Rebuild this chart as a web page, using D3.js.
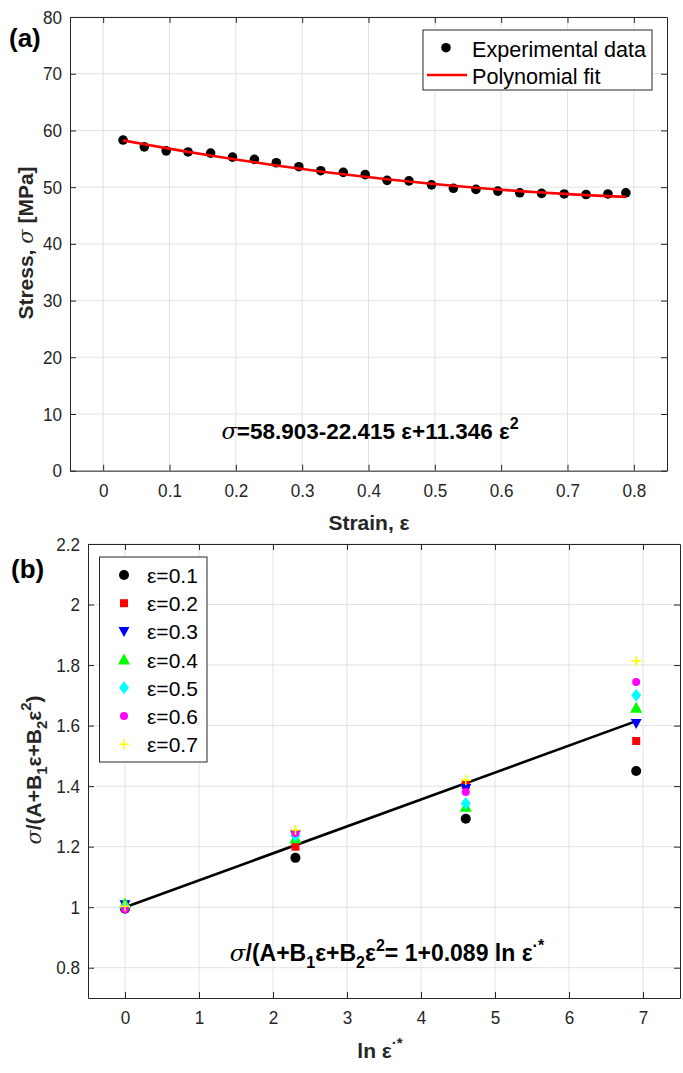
<!DOCTYPE html>
<html><head><meta charset="utf-8">
<script src="https://cdn.jsdelivr.net/npm/d3@7"></script>
<style>
html,body{margin:0;padding:0;background:#fff;}
svg text{font-family:"Liberation Sans",Arial,Helvetica,sans-serif;}
</style></head>
<body>
<svg id="c" width="683" height="1073"></svg>
<script>
// ---------- Panel (a) data ----------
const strain = [0.030,0.062,0.095,0.128,0.162,0.195,0.228,0.261,0.295,0.328,0.362,0.395,0.428,0.461,0.495,0.528,0.562,0.595,0.628,0.661,0.695,0.728,0.761,0.788];
const stress = [58.3,57.1,56.4,56.2,56.0,55.3,54.9,54.3,53.6,52.9,52.6,52.2,51.2,51.1,50.4,49.8,49.6,49.3,49.0,48.9,48.8,48.7,48.8,49.0];
const fitCoefA = [58.903, -22.415, 11.346];
const ticksAX = [0,0.1,0.2,0.3,0.4,0.5,0.6,0.7,0.8];
const ticksAY = [0,10,20,30,40,50,60,70,80];

// ---------- Panel (b) data ----------
const lnRate = [0, 2.303, 4.605, 6.908];
const seriesNames = ["ε=0.1","ε=0.2","ε=0.3","ε=0.4","ε=0.5","ε=0.6","ε=0.7"];
const e01 = [0.995, 1.163, 1.292, 1.450];
const e02 = [1.000, 1.200, 1.404, 1.549];
const e03 = [1.008, 1.240, 1.392, 1.607];
const e04 = [1.012, 1.228, 1.332, 1.659];
const e05 = [1.000, 1.236, 1.343, 1.700];
const e06 = [0.993, 1.245, 1.381, 1.744];
const e07 = [1.003, 1.255, 1.420, 1.813];
const seriesColors = ["#000000","#ff0000","#0000ff","#00ff00","#00ffff","#ff00ff","#ffff00"];
const seriesMarkers = ["circle","square","tdown","tup","diamond","smallcircle","plus"];
const fitCoefB = [1, 0.089];
const fitRangeB = [0, 6.908];
const ticksBX = [0,1,2,3,4,5,6,7];
const ticksBY = [0.8,1,1.2,1.4,1.6,1.8,2,2.2];

const svg = d3.select("#c");
svg.append("rect").attr("width",683).attr("height",1073).attr("fill","#fff");
const AX = "#262626", GRID = "#e2e2e2";
const TICKFS = 19, SQUEEZE = 0.9;

function squeeze(sel) {
  sel.each(function(){
    const L = this.getComputedTextLength();
    if (L > 0) d3.select(this).attr("textLength", L*SQUEEZE).attr("lengthAdjust","spacingAndGlyphs");
  });
}

function frame(x, y, xt, yt) {
  const [x0,x1] = x.range(), [y0,y1] = y.range();
  const g = svg.append("g");
  g.selectAll(".gx").data(xt).join("line").attr("x1",d=>x(d)).attr("x2",d=>x(d)).attr("y1",y0).attr("y2",y1).attr("stroke",GRID).attr("stroke-width",1);
  g.selectAll(".gy").data(yt).join("line").attr("y1",d=>y(d)).attr("y2",d=>y(d)).attr("x1",x0).attr("x2",x1).attr("stroke",GRID).attr("stroke-width",1);
  const tl = 6;
  const style = s=>{s.select(".domain").attr("stroke",AX);s.selectAll("line").attr("stroke",AX);
    s.selectAll("text").attr("fill",AX).attr("font-size",TICKFS).attr("font-family","Liberation Sans, Arial, sans-serif").call(squeeze);};
  svg.append("g").attr("transform",`translate(0,${y0})`)
    .call(d3.axisBottom(x).tickValues(xt).tickFormat(d3.format("")).tickSizeInner(-tl).tickSizeOuter(0).tickPadding(13))
    .call(style);
  svg.append("g").attr("transform",`translate(0,${y1})`)
    .call(d3.axisTop(x).tickValues(xt).tickFormat("").tickSizeInner(-tl).tickSizeOuter(0))
    .call(style);
  svg.append("g").attr("transform",`translate(${x0},0)`)
    .call(d3.axisLeft(y).tickValues(yt).tickFormat(d3.format("")).tickSizeInner(-tl).tickSizeOuter(0).tickPadding(8))
    .call(style);
  svg.append("g").attr("transform",`translate(${x1},0)`)
    .call(d3.axisRight(y).tickValues(yt).tickFormat("").tickSizeInner(-tl).tickSizeOuter(0))
    .call(style);
}

const sigma = t => t.append("tspan").attr("font-style","italic").attr("font-weight","normal").attr("font-family","DejaVu Serif, serif").text("σ");

// ================= Panel (a) =================
const xa = d3.scaleLinear().domain([-0.05,0.85]).range([70,667]);
const ya = d3.scaleLinear().domain([0,80]).range([470.7,17]);
frame(xa, ya, ticksAX, ticksAY);

const fitA = strain.map(s => [s, fitCoefA[0] + fitCoefA[1]*s + fitCoefA[2]*s*s]);
svg.append("g").selectAll("circle").data(strain).join("circle")
  .attr("cx",d=>xa(d)).attr("cy",(d,i)=>ya(stress[i])).attr("r",4.8).attr("fill","#000");
svg.append("path").datum(fitA)
  .attr("d", d3.line().x(d=>xa(d[0])).y(d=>ya(d[1])).curve(d3.curveMonotoneX))
  .attr("fill","none").attr("stroke","#ff0000").attr("stroke-width",2.6);

// legend (a)
svg.append("rect").attr("x",423).attr("y",30).attr("width",229).attr("height",60).attr("fill","#fff").attr("stroke",AX).attr("stroke-width",1);
svg.append("circle").attr("cx",446).attr("cy",47.7).attr("r",4.8).attr("fill","#000");
svg.append("line").attr("x1",427).attr("x2",467).attr("y1",75).attr("y2",75).attr("stroke","#ff0000").attr("stroke-width",2.6);
svg.append("text").attr("x",472).attr("y",56.5).attr("font-size",21.6).attr("fill","#000").text("Experimental data");
svg.append("text").attr("x",472).attr("y",83.5).attr("font-size",21.6).attr("fill","#000").text("Polynomial fit");

// labels (a)
svg.append("text").attr("x",9).attr("y",47).attr("font-size",26).attr("font-weight","bold").text("(a)");
svg.append("text").attr("x",369).attr("y",530).attr("text-anchor","middle").attr("font-size",21).attr("font-weight","bold").attr("fill",AX).text("Strain, ε");
{
  const t = svg.append("text").attr("transform","translate(33,243) rotate(-90)").attr("text-anchor","middle")
    .attr("font-size",21).attr("font-weight","bold").attr("fill",AX);
  t.append("tspan").text("Stress, ");
  sigma(t);
  t.append("tspan").text(" [MPa]");
}
{
  const t = svg.append("text").attr("x",370).attr("y",439).attr("text-anchor","middle").attr("font-size",22.5).attr("font-weight","bold").attr("fill","#000");
  sigma(t);
  t.append("tspan").text("=58.903-22.415 ε+11.346 ε");
  t.append("tspan").attr("dy",-10).attr("font-size",16).text("2");
}

// ================= Panel (b) =================
const xb = d3.scaleLinear().domain([-0.5,7.5]).range([88,680]);
const yb = d3.scaleLinear().domain([0.7,2.2]).range([998,544]);
frame(xb, yb, ticksBX, ticksBY);

svg.append("path").datum(fitRangeB)
  .attr("d", d3.line().x(d=>xb(d)).y(d=>yb(fitCoefB[0] + fitCoefB[1]*d)))
  .attr("stroke","#000").attr("stroke-width",2.6).attr("fill","none");

function marker(g, type, color, cx, cy) {
  if (type==="circle") g.append("circle").attr("cx",cx).attr("cy",cy).attr("r",5).attr("fill",color);
  else if (type==="smallcircle") g.append("circle").attr("cx",cx).attr("cy",cy).attr("r",4).attr("fill",color);
  else if (type==="square") g.append("rect").attr("x",cx-4).attr("y",cy-4).attr("width",8).attr("height",8).attr("fill",color);
  else if (type==="tdown") g.append("path").attr("d",`M${cx-5.5},${cy-4.5}L${cx+5.5},${cy-4.5}L${cx},${cy+5.5}Z`).attr("fill",color);
  else if (type==="tup") g.append("path").attr("d",`M${cx-6},${cy+5}L${cx+6},${cy+5}L${cx},${cy-6}Z`).attr("fill",color);
  else if (type==="diamond") g.append("path").attr("d",`M${cx},${cy-6.5}L${cx+5},${cy}L${cx},${cy+6.5}L${cx-5},${cy}Z`).attr("fill",color);
  else if (type==="plus") g.append("path").attr("d",`M${cx-5},${cy}H${cx+5}M${cx},${cy-5}V${cy+5}`).attr("stroke",color).attr("stroke-width",1.6);
}
const seriesB = [e01,e02,e03,e04,e05,e06,e07];
const mg = svg.append("g");
seriesB.forEach((vals,si)=>{
  vals.forEach((v,i)=> marker(mg, seriesMarkers[si], seriesColors[si], xb(lnRate[i]), yb(v)));
});

// legend (b)
svg.append("rect").attr("x",99.5).attr("y",557).attr("width",107.5).attr("height",205).attr("fill","#fff").attr("stroke",AX).attr("stroke-width",1);
seriesNames.forEach((n,i)=>{
  const cy = 575 + i*28.2;
  marker(svg, seriesMarkers[i], seriesColors[i], 124, cy);
  svg.append("text").attr("x",147).attr("y",cy+8).attr("font-size",21).attr("fill","#000").text(n);
});

// labels (b)
svg.append("text").attr("x",11).attr("y",578).attr("font-size",26).attr("font-weight","bold").text("(b)");
{
  const t = svg.append("text").attr("x",380).attr("y",1058).attr("text-anchor","middle").attr("font-size",21).attr("font-weight","bold").attr("fill",AX);
  t.append("tspan").text("ln ε");
  t.append("tspan").attr("dy",-10).attr("font-size",15).text("·*");
}
{
  const t = svg.append("text").attr("transform","translate(41,770) rotate(-90)").attr("text-anchor","middle")
    .attr("font-size",21).attr("font-weight","bold").attr("fill",AX);
  sigma(t);
  t.append("tspan").text("/(A+B");
  t.append("tspan").attr("dy",6).attr("font-size",15).text("1");
  t.append("tspan").attr("dy",-6).text("ε+B");
  t.append("tspan").attr("dy",6).attr("font-size",15).text("2");
  t.append("tspan").attr("dy",-6).text("ε");
  t.append("tspan").attr("dy",-10).attr("font-size",15).text("2");
  t.append("tspan").attr("dy",10).text(")");
}
{
  const t = svg.append("text").attr("x",387).attr("y",960.5).attr("text-anchor","middle").attr("font-size",23).attr("font-weight","bold").attr("fill","#000");
  sigma(t);
  t.append("tspan").text("/(A+B");
  t.append("tspan").attr("dy",7).attr("font-size",16).text("1");
  t.append("tspan").attr("dy",-7).text("ε+B");
  t.append("tspan").attr("dy",7).attr("font-size",16).text("2");
  t.append("tspan").attr("dy",-7).text("ε");
  t.append("tspan").attr("dy",-10).attr("font-size",16).text("2");
  t.append("tspan").attr("dy",10).text("= 1+0.089 ln ε");
  t.append("tspan").attr("dy",-10).attr("font-size",16).text("·*");
}
</script>
</body></html>
